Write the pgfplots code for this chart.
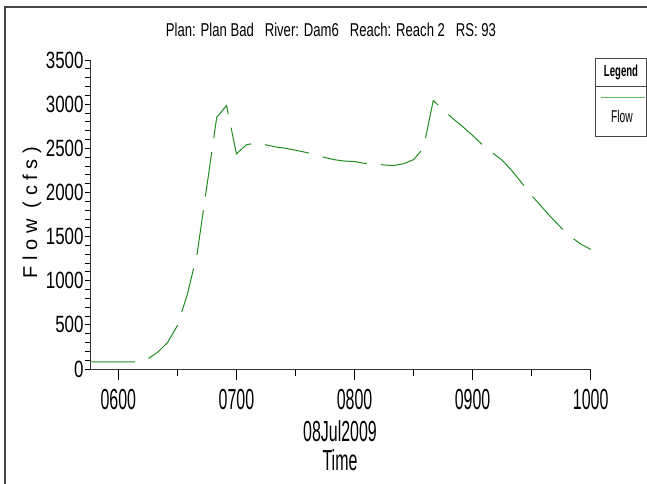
\documentclass[border=0pt]{standalone}
\usepackage{pgfplots}
\pgfplotsset{compat=1.18}
\usepackage{fontspec}
\setmainfont{Liberation Sans}
\newfontfamily\fyt[FakeStretch=0.72]{Liberation Sans}
\newfontfamily\fxt[FakeStretch=0.55]{Liberation Sans}
\newfontfamily\ftitle[FakeStretch=0.705]{Liberation Sans}
\newfontfamily\fleg[FakeStretch=0.6]{Liberation Sans}
\definecolor{flowgreen}{RGB}{30,140,30}
\definecolor{leggreen}{RGB}{100,185,100}
\definecolor{framegray}{RGB}{70,70,70}

% flow at RS 93, time in decimal hours on 08Jul2009
\pgfplotstableread{
t      q
5.76   80
6.1667 80
6.25   115
6.3333 190
6.4167 300
6.5    490
6.5833 840
6.6667 1302
6.75   2074
6.8333 2852
6.9167 2984
7.0    2437
7.0833 2539
7.1667 2562
7.25   2539
7.3333 2515
7.4167 2500
7.5    2478
7.5833 2455
7.6667 2429
7.75   2395
7.8333 2370
7.9167 2355
8.0    2350
8.0833 2330
8.1667 2325
8.25   2310
8.3333 2305
8.4167 2325
8.5    2372
8.5833 2501
8.6667 3041
8.75   2938
8.8333 2836
8.9167 2745
9.0    2645
9.0833 2540
9.1667 2450
9.25   2365
9.3333 2245
9.4167 2108
9.5    1965
9.5833 1840
9.6667 1715
9.75   1600
9.8333 1495
9.9167 1415
10.0   1355
}\flowdata

\begin{document}
\begin{tikzpicture}
\path[use as bounding box] (0,0) rectangle (647pt,483pt);
\draw[framegray, line width=1.2pt] (5pt,-2pt) -- (5pt,476pt) -- (650pt,476pt);

\begin{axis}[
    at={(90pt,114pt)}, anchor=south west,
    scale only axis,
    width=500.7pt, height=309pt,
    xmin=5.76, xmax=10, ymin=0, ymax=3500,
    axis lines=left,
    axis line style={-, black!80, line width=0.8pt},
    tick align=outside,
    xtick={6,7,8,9,10},
    xticklabels={0600,0700,0800,0900,1000},
    minor xtick={6.5,7.5,8.5,9.5},
    ytick={0,500,...,3500},
    minor y tick num=4,
    x tick style={black, line width=0.8pt, /pgfplots/major tick length=11pt, /pgfplots/minor tick length=6.5pt},
    y tick style={black, line width=0.8pt, /pgfplots/major tick length=5pt, /pgfplots/minor tick length=5pt},
    /pgf/number format/assume math mode=true,
    /pgf/number format/set thousands separator={},
    yticklabel style={font=\fyt\fontsize{23.5}{23.5}\selectfont, inner sep=0pt, xshift=-2pt},
    xticklabel style={font=\fxt\fontsize{29}{29}\selectfont, inner sep=0pt, yshift=-16pt},
    clip=false,
]
\addplot[flowgreen, line width=1pt, dash pattern=on 45pt off 14pt] table[x=t, y=q] {\flowdata};
\end{axis}

\node[font=\ftitle\fontsize{18.6}{18.6}\selectfont, anchor=base] at (331pt,446.5pt)
  {Plan: Plan Bad\ \ \ River: Dam6\ \ \ Reach: Reach 2\ \ \ RS: 93};
\node[font=\fontsize{20}{20}\selectfont, rotate=90, anchor=center] at (32pt,270.5pt)
  {F l o w\ \ ( c f s )};
\node[font=\fxt\fontsize{29}{29}\selectfont, anchor=base] at (340pt,41.3pt) {08Jul2009};
\node[font=\fxt\fontsize{29}{29}\selectfont, anchor=base] at (340pt,13pt) {Time};

% legend box
\draw[framegray, line width=1pt] (595.3pt,346.3pt) rectangle (646.5pt,424pt);
\draw[framegray, line width=1pt] (595.3pt,396.3pt) -- (646.5pt,396.3pt);
\node[font=\fleg\bfseries\fontsize{16}{16}\selectfont, anchor=center] at (621pt,410.5pt) {Legend};
\draw[leggreen, line width=1.4pt] (601pt,385.3pt) -- (645pt,385.3pt);
\node[font=\fleg\fontsize{17}{17}\selectfont, anchor=center] at (622pt,366.5pt) {Flow};
\end{tikzpicture}
\end{document}
